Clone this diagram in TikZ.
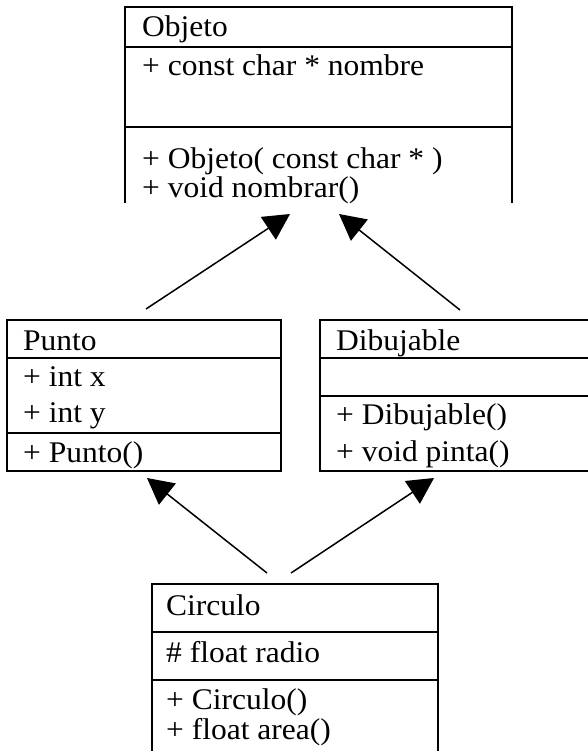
\documentclass[tikz,border=0pt]{standalone}
\usepackage{fontspec}
\setmainfont[FakeStretch=1.05]{Liberation Serif}
\usetikzlibrary{arrows.meta}
\begin{document}
\begin{tikzpicture}[x=1pt,y=-1pt,
  box/.style={line width=2pt},
  txt/.style={anchor=base west,inner sep=0pt,font=\fontsize{30}{30}\selectfont},
  inh/.style={line width=1.5pt,-{Triangle[length=26pt,width=27pt]}}]
\useasboundingbox (0,0) rectangle (587,751);
% Objeto
\draw[box] (125,203) -- (125,7) -- (512,7) -- (512,203);
\draw[box] (125,47) -- (512,47);
\draw[box] (125,127) -- (512,127);
\node[txt] (objN) at (142,37) {Objeto};
\node[txt] (objA) at (142,76) {+ const char * nombre};
\node[txt] (objM1) at (142,169) {+ Objeto( const char * )};
\node[txt] (objM2) at (142,197) {+ void nombrar()};
% Punto
\draw[box] (7,320) rectangle (281,471);
\draw[box] (7,358) -- (281,358);
\draw[box] (7,433) -- (281,433);
\node[txt] (punN) at (23,350) {Punto};
\node[txt] (punA1) at (23,386) {+ int x};
\node[txt] (punA2) at (23,422) {+ int y};
\node[txt] (punM) at (23,462) {+ Punto()};
% Dibujable
\draw[box] (590,320) -- (320,320) -- (320,471) -- (590,471);
\draw[box] (320,358) -- (590,358);
\draw[box] (320,396) -- (590,396);
\node[txt] (dibN) at (336,350) {Dibujable};
\node[txt] (dibM1) at (336,424) {+ Dibujable()};
\node[txt] (dibM2) at (336,461) {+ void pinta()};
% Circulo
\draw[box] (152,755) -- (152,584) -- (438,584) -- (438,755);
\draw[box] (152,632) -- (438,632);
\draw[box] (152,680) -- (438,680);
\node[txt] (cirN) at (166,615) {Circulo};
\node[txt] (cirA) at (166,662) {\# float radio};
\node[txt] (cirM1) at (166,709) {+ Circulo()};
\node[txt] (cirM2) at (166,739) {+ float area()};
% arrow ends
\coordinate (pTail) at (146,309);
\coordinate (pTip) at (290,214);
\coordinate (dTail) at (460,310);
\coordinate (dTip) at (339,214);
\coordinate (c1Tail) at (267,573);
\coordinate (c1Tip) at (147,478);
\coordinate (c2Tail) at (291,573);
\coordinate (c2Tip) at (434,478);
\draw[inh] (pTail) -- (pTip);
\draw[inh] (dTail) -- (dTip);
\draw[inh] (c1Tail) -- (c1Tip);
\draw[inh] (c2Tail) -- (c2Tip);
\end{tikzpicture}
\end{document}
